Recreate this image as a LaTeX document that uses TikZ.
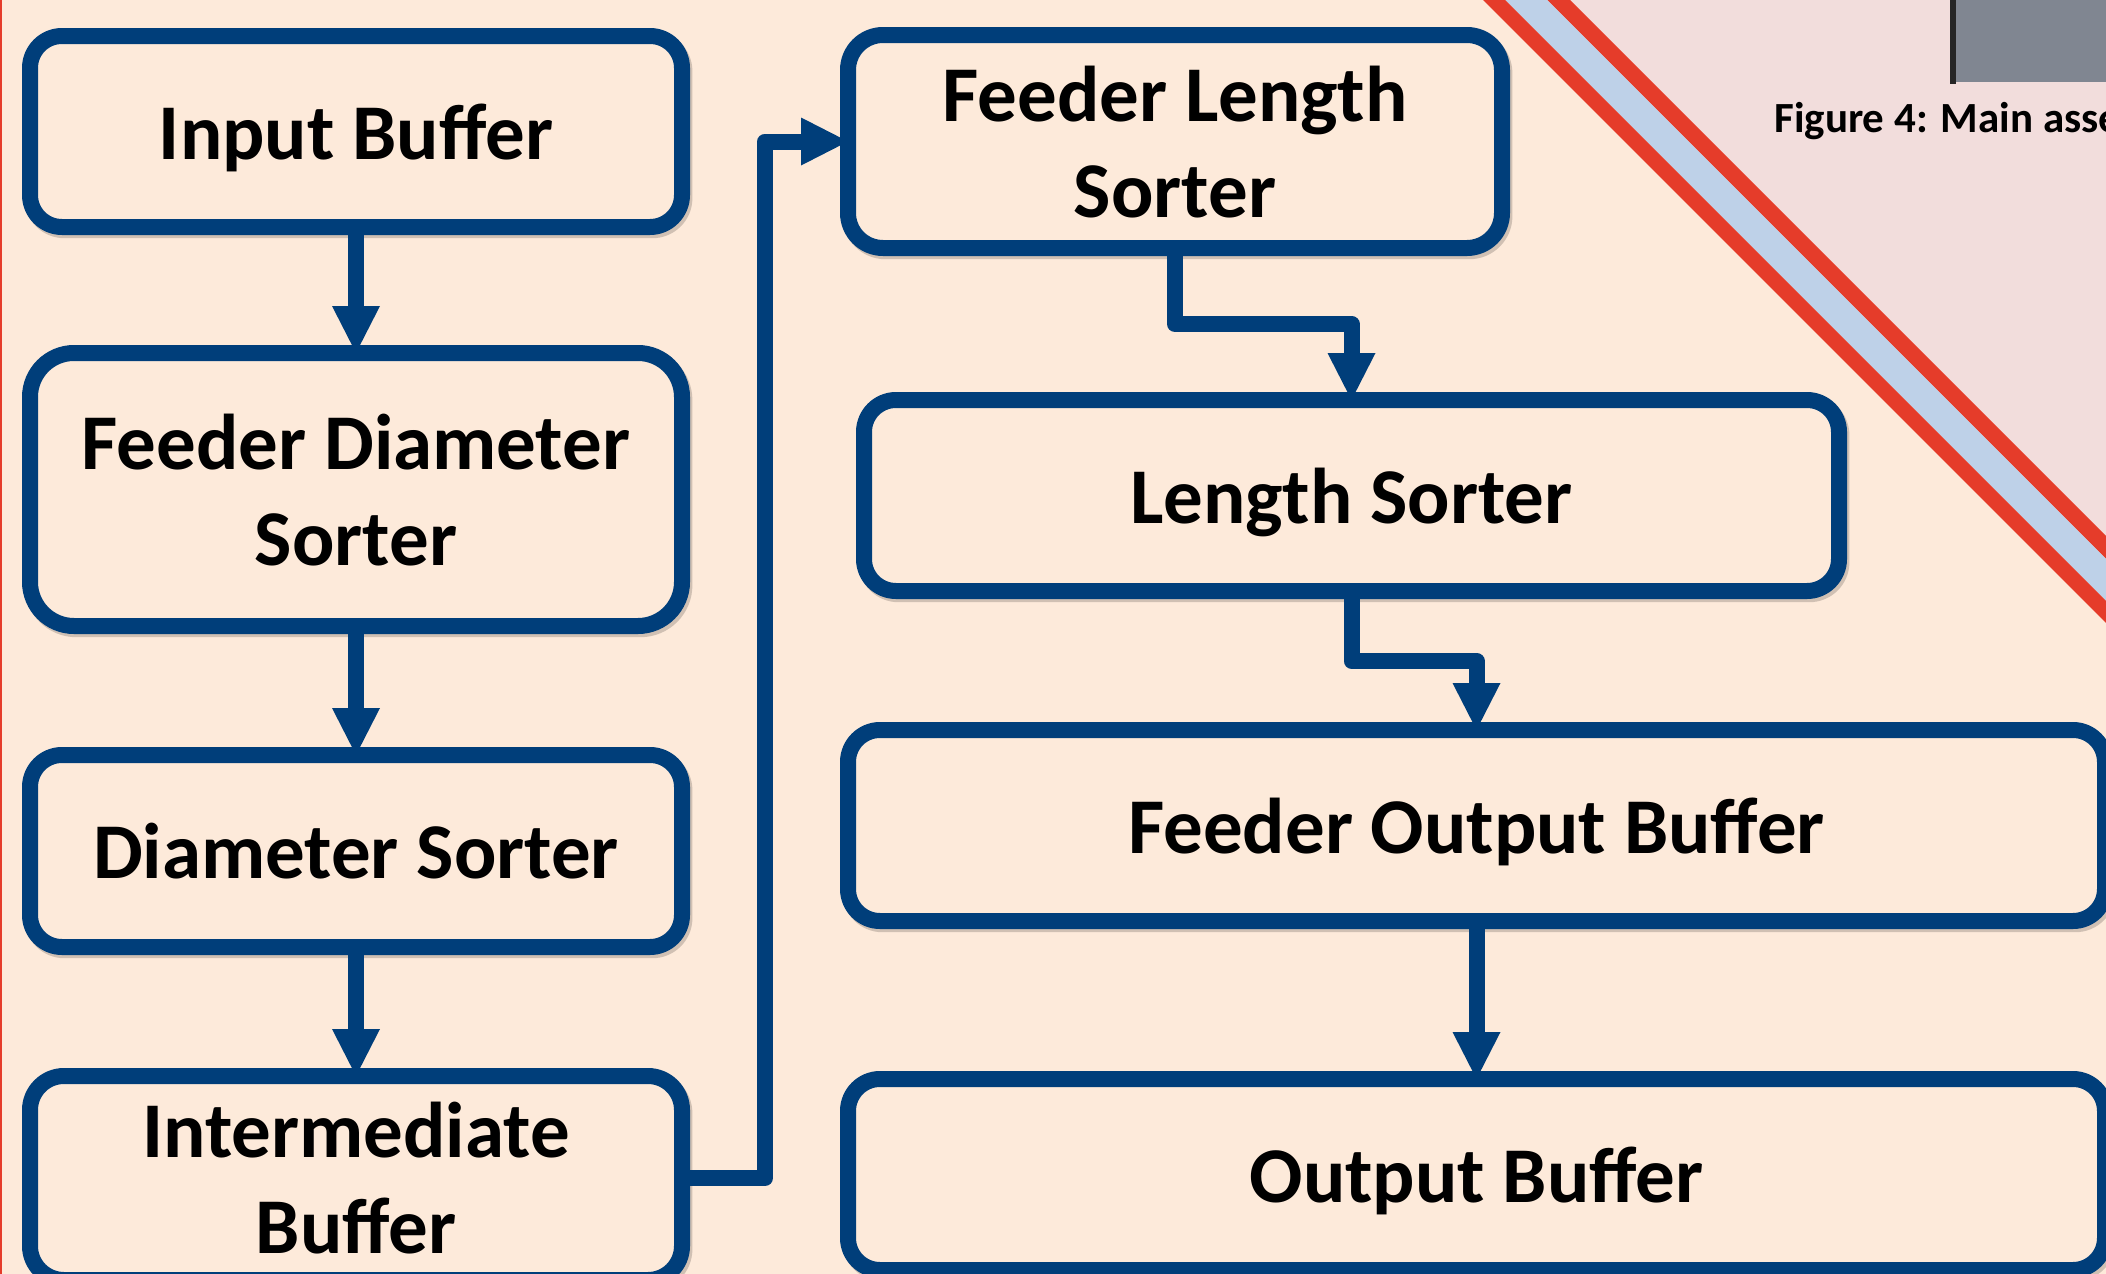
\documentclass[tikz,border=0pt]{standalone}
\usepackage{fontspec}
\setmainfont{Carlito}
\usetikzlibrary{arrows.meta,calc}
\definecolor{bgpeach}{RGB}{253,234,218}
\definecolor{boxblue}{RGB}{0,62,122}
\definecolor{bandred}{RGB}{229,60,42}
\definecolor{bandblue}{RGB}{190,209,232}
\definecolor{pinkbg}{RGB}{242,221,220}
\definecolor{imggrey}{RGB}{128,134,145}
\begin{document}
\begin{tikzpicture}[x=0.5pt,y=-0.5pt,
  softshadow/.style={preaction={draw=black!70!bgpeach, draw opacity=0.25,
    transform canvas={xshift=1.2pt,yshift=-1.6pt}}},
  flowbox/.style={draw=boxblue, line width=8pt, fill=bgpeach, rounded corners=16pt,
    inner sep=0pt, outer sep=0pt, align=center, text depth=0pt, softshadow,
    font=\fontsize{39.5pt}{48.2pt}\selectfont\bfseries},
  conn/.style={draw=boxblue, line width=8pt, line join=round,
    -{Triangle[length=23.5pt,width=24pt,line width=0pt]}}
]
\clip (0,0) rectangle (2106,1274);
% background
\fill[bgpeach] (0,0) rectangle (2106,1274);
\fill[pinkbg] (1570,0) -- (2106,0) -- (2106,536) -- cycle;
\fill[bandred] (1547,0) -- (1570,0) -- (2106,536) -- (2106,559) -- cycle;
\fill[bandblue] (1505,0) -- (1547,0) -- (2106,559) -- (2106,601) -- cycle;
\fill[bandred] (1483,0) -- (1505,0) -- (2106,601) -- (2106,623) -- cycle;
\fill[bandred] (0,0) rectangle (1.5,1274);
% image fragment and caption
\fill[imggrey] (1953,0) rectangle (2106,82);
\fill[black!85] (1950,0) rectangle (1956,84);
\node[anchor=base west, inner sep=0pt, font=\fontsize{21.5pt}{26pt}\selectfont\bfseries] (caption) at (1774,132) {Figure 4: Main asse};
% boxes
\node[flowbox, minimum width=326pt, minimum height=95.5pt] (inbuf) at (356,131.5) {Input Buffer};
\node[flowbox, minimum width=326pt, minimum height=136.5pt, rounded corners=22pt] (fds) at (356,489.5) {Feeder Diameter\\Sorter};
\node[flowbox, minimum width=326pt, minimum height=96pt] (ds) at (356,851) {Diameter Sorter};
\node[flowbox, minimum width=326pt, minimum height=102pt, rounded corners=17pt] (ib) at (356,1178) {Intermediate\\Buffer};
\node[flowbox, minimum width=327pt, minimum height=106.5pt, rounded corners=17.5pt] (fls) at (1175,141.5) {Feeder Length\\Sorter};
\node[flowbox, minimum width=487.5pt, minimum height=95.5pt] (ls) at (1351.5,495.5) {Length Sorter};
\node[flowbox, minimum width=628.5pt, minimum height=95.5pt] (fob) at (1476.5,825.5) {Feeder Output Buffer};
\node[flowbox, minimum width=628.5pt, minimum height=95.5pt] (ob) at (1476.5,1174.5) {Output Buffer};
% connectors
\coordinate (jog1) at (765,0);
\coordinate (mid1) at (ls.north |- 0,324);
\coordinate (mid2) at (fob.north |- 0,661);
\draw[conn] (inbuf.south) -- (fds.north);
\draw[conn] (fds.south) -- (ds.north);
\draw[conn] (ds.south) -- (ib.north);
\draw[conn] (ib.east) -- (ib.east -| jog1) |- (fls.west);
\draw[conn] (fls.south) |- (mid1) -- (ls.north);
\draw[conn] (ls.south) |- (mid2) -- (fob.north);
\draw[conn] (fob.south) -- (ob.north);
\end{tikzpicture}
\end{document}
